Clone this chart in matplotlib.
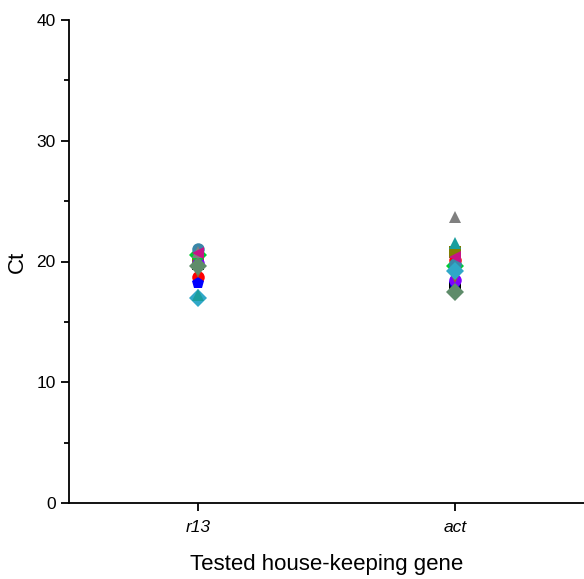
import numpy as np
import matplotlib
matplotlib.use('Agg')
from matplotlib import pyplot as plt

plt.rcParams['font.family'] = ['Liberation Sans', 'DejaVu Sans']

genes = ['r13', 'act']

# one series per sample: (marker, colour, Ct for r13, Ct for act)
markers = ['s', 'o', 'p', 'v', 's', 'v', 'o', 'D', 'v', 'D', 'o', '^', 'D', '^', '<']
colors = ['#000000', '#FF0000', '#0000FF', '#000080', '#808000', '#A0622D',
          '#8000FF', '#00CC33', '#A0622D', '#5E8C6A', '#3A86A8', '#808080',
          '#30A8C8', '#1A9E9E', '#C71585']
ct_r13 = [19.8, 18.7, 18.2, 19.5, 20.2, 19.1, 19.9, 20.5, 19.3, 19.6, 21.0, 20.8, 17.0, 17.2, 20.7]
ct_act = [17.8, 20.1, 18.2, 19.0, 20.8, 18.9, 18.5, 19.6, 18.7, 17.5, 19.8, 23.7, 19.2, 21.5, 20.4]

fig = plt.figure(figsize=(5.84, 5.79), dpi=100)
ax = fig.add_axes([69/584, 76/579, 515/584, 483/579])

x = np.arange(1, len(genes)+1)
for m, c, a, b in zip(markers, colors, ct_r13, ct_act):
    ax.plot(x, [a, b], linestyle='none', marker=m, color=c, markersize=9,
            markeredgewidth=0)

ax.set_xlim(0.5, 2.5)
ax.set_ylim(0, 40)
ax.set_xticks(x)
ax.set_xticklabels(genes, fontstyle='italic', fontsize=12.5)
ax.set_yticks([0, 10, 20, 30, 40])
ax.set_yticks([5, 15, 25, 35], minor=True)
ax.tick_params(axis='y', labelsize=12.5)
ax.tick_params(axis='x', pad=6)
ax.tick_params(which='major', direction='out', length=6, width=1.3)
ax.tick_params(which='minor', direction='out', length=3.5, width=1.3)
for s in ['top', 'right']:
    ax.spines[s].set_visible(False)
for s in ['left', 'bottom']:
    ax.spines[s].set_linewidth(1.3)

ax.set_xlabel('Tested house-keeping gene', fontsize=16, labelpad=14)
ax.set_ylabel('Ct', fontsize=16, labelpad=6)

plt.savefig('out.png', dpi=100)
